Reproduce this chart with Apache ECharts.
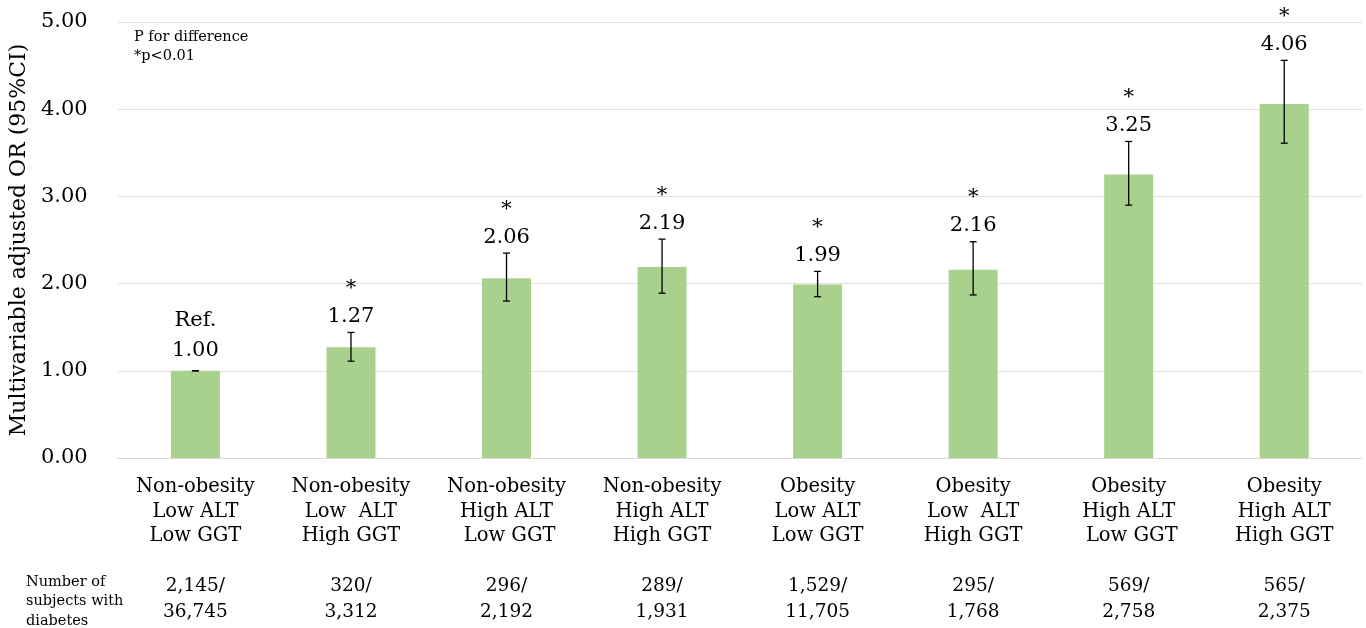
<!DOCTYPE html>
<html>
<head>
<meta charset="utf-8">
<script src="https://cdn.jsdelivr.net/npm/echarts@6/dist/echarts.min.js"></script>
<style>
  html, body { margin: 0; padding: 0; background: #fff; }
  #chart { width: 1366px; height: 628px; }
</style>
</head>
<body>
<div id="chart"></div>
<script>
const categories = [
  'Non-obesity\nLow ALT\nLow GGT',
  'Non-obesity\nLow  ALT\nHigh GGT',
  'Non-obesity\nHigh ALT\n Low GGT',
  'Non-obesity\nHigh ALT\nHigh GGT',
  'Obesity\nLow ALT\nLow GGT',
  'Obesity\nLow  ALT\nHigh GGT',
  'Obesity\nHigh ALT\n Low GGT',
  'Obesity\nHigh ALT\nHigh GGT'
]
const orValues = [1.00, 1.27, 2.06, 2.19, 1.99, 2.16, 3.25, 4.06]
const ciLower = [1.00, 1.11, 1.80, 1.89, 1.85, 1.87, 2.90, 3.61]
const ciUpper = [1.00, 1.44, 2.35, 2.51, 2.14, 2.48, 3.63, 4.56]
const marks = ['Ref.', '*', '*', '*', '*', '*', '*', '*']
const diabetesCounts = [
  '2,145/\n36,745', '320/\n3,312', '296/\n2,192', '289/\n1,931',
  '1,529/\n11,705', '295/\n1,768', '569/\n2,758', '565/\n2,375'
]
const yTicks = [0, 1, 2, 3, 4, 5]

const FONT = '"DejaVu Serif", serif'
const chart = echarts.init(document.getElementById('chart'))

// error bar + value label + significance mark, placed from the CI top
const renderError = (params, api) => {
  const i = params.dataIndex
  const lo = api.coord([i, ciLower[i]])
  const hi = api.coord([i, ciUpper[i]])
  const x = lo[0]
  const cap = 3.5
  const style = { stroke: '#000', lineWidth: 1.3 }
  const isRef = marks[i] === 'Ref.'
  return {
    type: 'group',
    children: [
      { type: 'line', shape: { x1: x, y1: lo[1], x2: x, y2: hi[1] }, style },
      { type: 'line', shape: { x1: x - cap, y1: lo[1], x2: x + cap, y2: lo[1] }, style },
      { type: 'line', shape: { x1: x - cap, y1: hi[1], x2: x + cap, y2: hi[1] }, style },
      {
        type: 'text',
        style: {
          x: x, y: hi[1] - (isRef ? 20 : 16),
          text: orValues[i].toFixed(2),
          font: '21px ' + FONT, fill: '#000',
          align: 'center', verticalAlign: 'middle'
        }
      },
      {
        type: 'text',
        style: {
          x: x, y: hi[1] - (isRef ? 50 : 44),
          text: marks[i],
          font: '21px ' + FONT, fill: '#000',
          align: 'center', verticalAlign: 'middle'
        }
      }
    ]
  }
}

const option = {
  animation: false,
  grid: { left: 117, right: 4, top: 22, bottom: 170 },
  xAxis: [
    {
      type: 'category',
      data: categories,
      axisLine: { lineStyle: { color: '#d9d9d9' } },
      axisTick: { show: false },
      axisLabel: {
        interval: 0, margin: 17, color: '#000',
        fontFamily: FONT, fontSize: 19.5, lineHeight: 24.5
      }
    },
    {
      type: 'category',
      position: 'bottom',
      offset: 113,
      data: diabetesCounts,
      axisLine: { show: false },
      axisTick: { show: false },
      axisLabel: {
        interval: 0, margin: 2, color: '#000',
        fontFamily: FONT, fontSize: 18.5, lineHeight: 26
      }
    }
  ],
  yAxis: {
    type: 'value',
    min: yTicks[0],
    max: yTicks[yTicks.length - 1],
    interval: 1,
    name: 'Multivariable adjusted OR (95%CI)',
    nameLocation: 'middle',
    nameGap: 84,
    nameTextStyle: { fontFamily: FONT, fontSize: 22, color: '#000' },
    axisLine: { show: false },
    axisTick: { show: false },
    splitLine: { lineStyle: { color: '#e0e0e0' } },
    axisLabel: {
      margin: 30, color: '#000', fontFamily: FONT, fontSize: 21,
      formatter: (v) => v.toFixed(2)
    }
  },
  graphic: [
    {
      type: 'text', left: 134, top: 28,
      style: { text: 'P for difference\n*p<0.01', font: '14.5px ' + FONT, fill: '#000', lineHeight: 19 }
    },
    {
      type: 'text', left: 26, top: 572,
      style: { text: 'Number of\nsubjects with\ndiabetes', font: '14.5px ' + FONT, fill: '#000', lineHeight: 19.5 }
    }
  ],
  series: [
    {
      type: 'bar',
      data: orValues,
      barWidth: '31.5%',
      itemStyle: { color: '#a9d18e' }
    },
    {
      type: 'custom',
      renderItem: renderError,
      data: orValues.map((v, i) => [i, ciLower[i], ciUpper[i]]),
      z: 3
    }
  ]
}

chart.setOption(option)
</script>
</body>
</html>
